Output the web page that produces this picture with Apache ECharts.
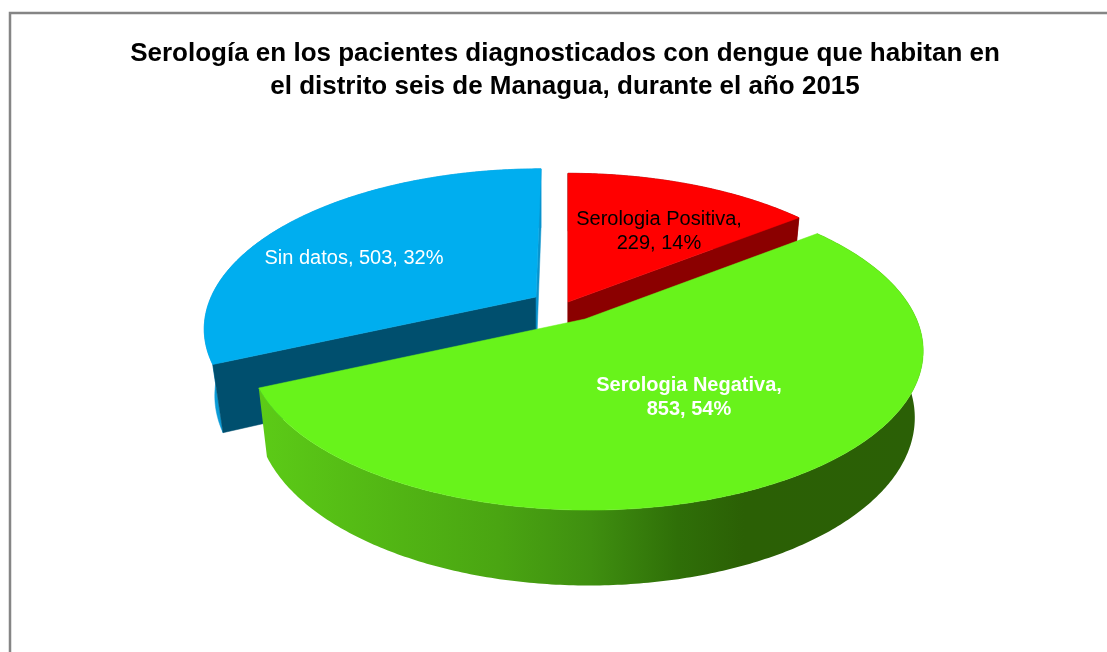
<!DOCTYPE html>
<html><head><meta charset="utf-8">
<style>html,body{margin:0;padding:0;background:#fff}#c{width:1107px;height:652px}</style>
<script src="https://cdn.jsdelivr.net/npm/echarts@6/dist/echarts.min.js"></script>
</head><body><div id="c"></div>
<script>
const titleText = 'Serología en los pacientes diagnosticados con dengue que habitan en\nel distrito seis de Managua, durante el año 2015';
const categories = ['Serologia Positiva', 'Serologia Negativa', 'Sin datos'];
const values = [229, 853, 503];

// 3D pie look (styling only)
const VIEW = {x0: 568, A: 331.5, B: 155, k: 0.189, H: 65};
const STYLE = [
  {ax: 568, ay: 302, scale: 0.985, c: 0.975, z: 10, top: '#FF0000', cut: '#8B0000', wall: '#8B0000', side: '#8B0000',
   sep: ',\n', lx: 659, ly: 231, color: '#000000', weight: 'normal'},
  {ax: 585, ay: 319, scale: 1, c: 0.975, z: 30, top: '#68F31B', cut: '#2B6006',
   wall: {type: 'linear', x: 0, y: 0, x2: 1, y2: 0, colorStops: [
     {offset: 0, color: '#5CCB17'}, {offset: 0.14, color: '#55BC15'}, {offset: 0.36, color: '#4AA512'},
     {offset: 0.5, color: '#3F8F10'}, {offset: 0.63, color: '#2F6F08'}, {offset: 0.73, color: '#2B6005'},
     {offset: 1, color: '#2B6006'}]},
   sep: ',\n', lx: 689, ly: 397, color: '#FFFFFF', weight: 'bold'},
  {ax: 536, ay: 297, scale: 0.98, c: 0.968, z: 20, top: '#00AEEF', cut: '#004F6E', wall: '#0A9BD6', side: '#0A93CC',
   sep: ', ', lx: 354, ly: 258, color: '#FFFFFF', weight: 'normal'}
];
const total = values.reduce((a, b) => a + b, 0);

function project(st, ang, r, low) {
  const u = Math.sin(ang) * r * st.scale, v = -Math.cos(ang) * r * st.scale;
  const s = 1 / (1 - VIEW.k * v);
  const c = low ? st.c : 1;
  return [
    st.ax + VIEW.A * u * s * c + (st.ax - VIEW.x0) * (s - 1),
    st.ay + VIEW.B * v * s * c + (low ? VIEW.H * s : 0)
  ];
}

function renderItem(params, api) {
  const i = params.dataIndex;
  const st = STYLE[i];
  let before = 0;
  for (let j = 0; j < i; j++) before += values[j];
  const a = before / total * Math.PI * 2;
  const b = (before + api.value(0)) / total * Math.PI * 2;
  const n = Math.max(2, Math.ceil((b - a) * 90));
  const upper = [], lower = [];
  for (let t = 0; t <= n; t++) {
    const ang = a + (b - a) * t / n;
    upper.push(project(st, ang, 1, false));
    lower.push(project(st, ang, 1, true));
  }
  const children = [];
  const poly = (pts, fill, z2) => children.push({
    type: 'polygon', z2: z2, shape: {points: pts},
    style: {fill: fill, stroke: typeof fill === 'string' ? fill : null, lineWidth: 0.5}
  });
  poly(upper.concat(lower.slice().reverse()), st.wall, st.z);
  const apexT = project(st, 0, 0, false), apexB = project(st, 0, 0, true);
  if (Math.sin(a) < 0.01) poly([apexT, upper[0], lower[0], apexB], a === 0 ? st.side : st.cut, st.z + 1);
  if (Math.sin(b) > -0.01) poly([apexT, upper[n], lower[n], apexB], Math.abs(Math.sin(b)) < 0.01 ? st.side : st.cut, st.z + 1);
  poly([apexT].concat(upper), st.top, st.z + 2);
  const pct = Math.round(api.value(0) / total * 100);
  children.push({
    type: 'text', z2: 100,
    style: {
      text: categories[i] + st.sep + api.value(0) + ', ' + pct + '%',
      x: st.lx, y: st.ly, align: 'center', verticalAlign: 'middle',
      fill: st.color, lineHeight: 24,
      font: st.weight + ' 20px "Liberation Sans", Arial, sans-serif'
    }
  });
  return {type: 'group', children: children};
}

const chart = echarts.init(document.getElementById('c'), null, {renderer: 'canvas'});
chart.setOption({
  animation: false,
  backgroundColor: '#FFFFFF',
  title: {
    text: titleText, left: 560, top: 32, textAlign: 'center',
    textStyle: {fontFamily: '"Liberation Sans", Arial, sans-serif', fontWeight: 'bold', fontSize: 26, lineHeight: 33, color: '#000'}
  },
  graphic: [{
    type: 'polyline', silent: true,
    shape: {points: [[10, 652], [10, 13], [1107, 13]]},
    style: {fill: null, stroke: '#858585', lineWidth: 2.5}
  }],
  series: [{
    type: 'custom', coordinateSystem: 'none', silent: true, clip: false,
    renderItem: renderItem,
    data: values.map(v => [v])
  }]
});
</script></body></html>
